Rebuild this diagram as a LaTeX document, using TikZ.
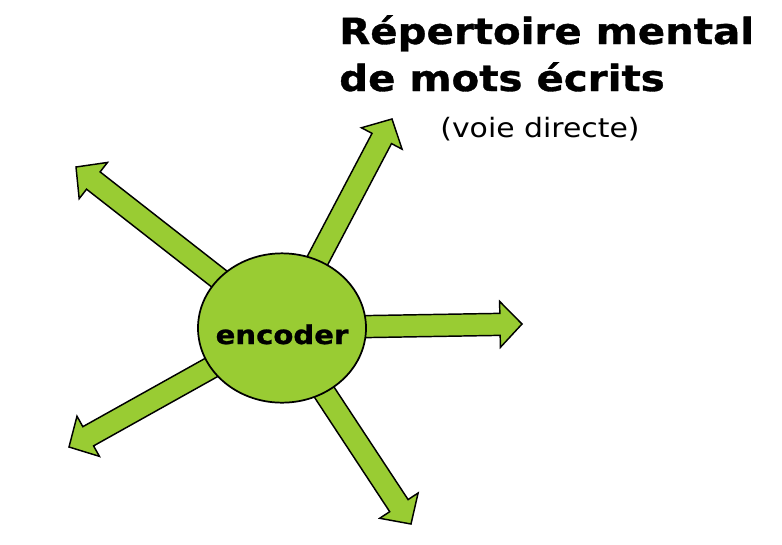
\documentclass[tikz,border=0pt]{standalone}
\usepackage{fontspec}
\setmainfont{DejaVu Sans}[FakeStretch=1.12, BoldFeatures={FakeBold=1}]
\usetikzlibrary{positioning, calc, shapes.geometric, backgrounds}
\definecolor{leaf}{RGB}{153,204,51}

\begin{document}
\begin{tikzpicture}[
    x=0.75pt, y=-0.75pt,
    hub/.style={draw, ellipse, fill=leaf, line width=1.3pt, minimum width=126pt, minimum height=112pt, inner sep=0pt, font=\fontsize{19.5}{22}\selectfont\bfseries},
    title/.style={align=left, inner sep=0pt, font=\fontsize{27}{35.25}\selectfont\bfseries},
    note/.style={inner sep=0pt, font=\fontsize{20}{22}\selectfont},
    blockarr/.style={draw, fill=leaf, line width=1.1pt, line join=miter, to path={
        ($(\tikztostart)!8.25pt!90:(\tikztotarget)$)
        -- ($(\tikztotarget)!16.5pt!(\tikztostart)!8.25pt!90:(\tikztotarget)$)
        -- ($(\tikztotarget)!16.5pt!(\tikztostart)!17.25pt!90:(\tikztotarget)$)
        -- (\tikztotarget)
        -- ($(\tikztotarget)!16.5pt!(\tikztostart)!17.25pt!-90:(\tikztotarget)$)
        -- ($(\tikztotarget)!16.5pt!(\tikztostart)!8.25pt!-90:(\tikztotarget)$)
        -- ($(\tikztostart)!8.25pt!-90:(\tikztotarget)$)
        -- cycle}},
]
\useasboundingbox (0,0) rectangle (782,544);

\node[hub] (enc) at (282,328) {\makebox[0pt]{\raisebox{-12pt}[0pt][0pt]{encoder}}};

\coordinate (t1) at (392,119);
\coordinate (t2) at (76,167);
\coordinate (t3) at (522,324);
\coordinate (t4) at (69,447);
\coordinate (t5) at (411,524);

\begin{scope}[on background layer]
\foreach \t in {t1,t2,t3,t4,t5}
    \draw[blockarr] (enc) to (\t);
\end{scope}

\node[title, anchor=base west] (rep) at (339,91) {Répertoire mental\\de mots écrits};
\node[note, anchor=base] (voie) at (540,137) {(voie directe)};
\end{tikzpicture}
\end{document}
